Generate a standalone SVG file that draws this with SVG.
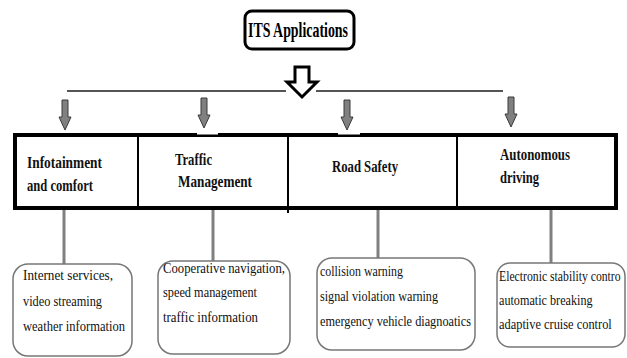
<svg xmlns="http://www.w3.org/2000/svg" width="627" height="358" viewBox="0 0 627 358">
<style>
.title{font-family:"Liberation Serif","Times New Roman",serif;font-weight:bold;font-size:21px;fill:#000}
.cat{font-family:"Liberation Serif","Times New Roman",serif;font-weight:bold;font-size:17px;fill:#111}
.item{font-family:"Liberation Serif","Times New Roman",serif;font-size:15px;fill:#111}
.leaf{fill:#fff;stroke:#777;stroke-width:1.5}
.conn{stroke:#808080;stroke-width:3;fill:none}
.bus{stroke:#555;stroke-width:2;fill:none}
.garrow{fill:#808080;stroke:#3a3a3a;stroke-width:1}
</style>
<defs>
<path id="ga" class="garrow" d="M-3,0 H3 V17 H6 L0,30 L-6,17 H-3 Z"/>
</defs>
<rect width="627" height="358" fill="#fff"/>

<g id="title">
<rect x="245" y="11" width="109" height="38" rx="7" fill="#fff" stroke="#000" stroke-width="3"/>
<text class="title" x="248" y="37" textLength="100" lengthAdjust="spacingAndGlyphs">ITS Applications</text>
</g>

<g id="connectors">
<path d="M295,67 H309 V82 H317 L302,97 L287,82 H295 Z" fill="#fff" stroke="#000" stroke-width="3" stroke-linejoin="miter"/>
<line class="bus" x1="67" y1="91" x2="286" y2="91"/>
<line class="bus" x1="316" y1="91" x2="503" y2="91"/>
<use href="#ga" x="65" y="100"/>
<use href="#ga" x="204" y="98"/>
<use href="#ga" x="347" y="100"/>
<use href="#ga" x="511" y="97"/>
<line class="conn" x1="64" y1="210" x2="64" y2="264"/>
<line class="conn" x1="213" y1="210" x2="213" y2="268"/>
<line class="conn" x1="378" y1="210" x2="378" y2="270"/>
<line class="conn" x1="551" y1="210" x2="551" y2="264"/>
</g>

<g id="categories">
<rect x="15" y="135" width="601" height="73" fill="none" stroke="#000" stroke-width="4"/>
<rect x="197" y="133" width="21" height="1.5" fill="#fff"/>
<rect x="338" y="133" width="22" height="1.5" fill="#fff"/>
<line x1="138" y1="135" x2="138" y2="208" stroke="#000" stroke-width="2"/>
<line x1="288" y1="135" x2="288" y2="213" stroke="#000" stroke-width="2"/>
<line x1="457" y1="135" x2="457" y2="208" stroke="#000" stroke-width="2"/>
</g>

<g id="cat-infotainment">
<text class="cat" x="27" y="168" textLength="75" lengthAdjust="spacingAndGlyphs">Infotainment</text>
<text class="cat" x="27" y="191" textLength="66" lengthAdjust="spacingAndGlyphs">and comfort</text>
</g>
<g id="cat-traffic">
<text class="cat" x="175" y="165" textLength="37" lengthAdjust="spacingAndGlyphs">Traffic</text>
<text class="cat" x="178" y="187" textLength="74" lengthAdjust="spacingAndGlyphs">Management</text>
</g>
<g id="cat-road">
<text class="cat" x="332" y="172" textLength="66" lengthAdjust="spacingAndGlyphs">Road Safety</text>
</g>
<g id="cat-autonomous">
<text class="cat" x="500" y="160" textLength="70" lengthAdjust="spacingAndGlyphs">Autonomous</text>
<text class="cat" x="500" y="183" textLength="39" lengthAdjust="spacingAndGlyphs">driving</text>
</g>

<g id="leaf-infotainment">
<rect class="leaf" x="13" y="264" width="119" height="92" rx="15"/>
<text class="item" x="23" y="280" textLength="90" lengthAdjust="spacingAndGlyphs">Internet services,</text>
<text class="item" x="23" y="306" textLength="79" lengthAdjust="spacingAndGlyphs">video streaming</text>
<text class="item" x="23" y="331" textLength="102" lengthAdjust="spacingAndGlyphs">weather information</text>
</g>
<g id="leaf-traffic">
<rect class="leaf" x="158" y="261" width="132" height="93" rx="15"/>
<text class="item" x="163" y="273" textLength="122" lengthAdjust="spacingAndGlyphs">Cooperative navigation,</text>
<text class="item" x="163" y="297" textLength="94" lengthAdjust="spacingAndGlyphs">speed management</text>
<text class="item" x="163" y="322" textLength="95" lengthAdjust="spacingAndGlyphs">traffic information</text>
</g>
<g id="leaf-road">
<rect class="leaf" x="317" y="258" width="158" height="92" rx="15"/>
<text class="item" x="320" y="276" textLength="83" lengthAdjust="spacingAndGlyphs">collision warning</text>
<text class="item" x="320" y="301" textLength="118" lengthAdjust="spacingAndGlyphs">signal violation warning</text>
<text class="item" x="320" y="326" textLength="151" lengthAdjust="spacingAndGlyphs">emergency vehicle diagnoatics</text>
</g>
<g id="leaf-autonomous">
<rect class="leaf" x="497" y="263" width="128" height="84" rx="13"/>
<g transform="translate(499,0) scale(0.8,1)">
<text class="item" x="0" y="281" textLength="152" lengthAdjust="spacingAndGlyphs">Electronic stability contro</text>
<text class="item" x="0" y="305" textLength="117" lengthAdjust="spacingAndGlyphs">automatic breaking</text>
<text class="item" x="0" y="329" textLength="141" lengthAdjust="spacingAndGlyphs">adaptive cruise control</text>
</g>
</g>
</svg>
